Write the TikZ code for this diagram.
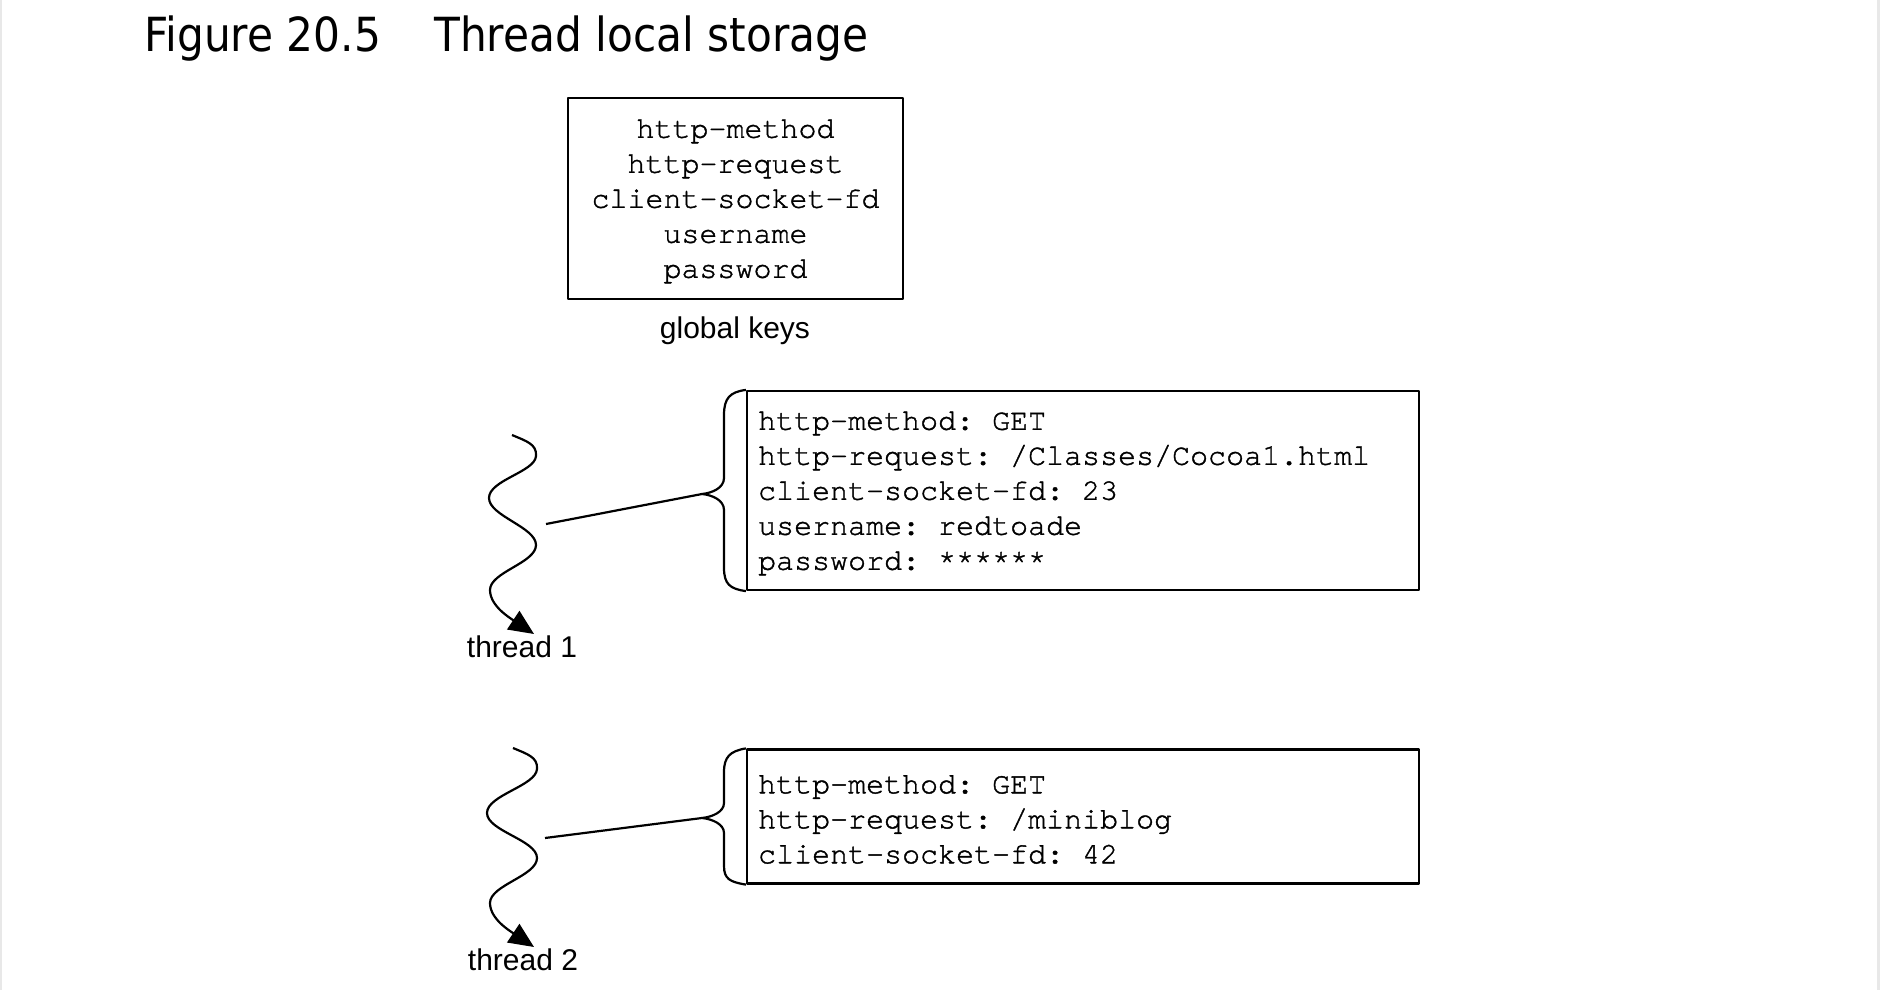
\documentclass[tikz,border=0pt]{standalone}
\usepackage{fontspec}
\setmainfont{Liberation Sans}
\newfontfamily\keymono[FakeBold=1.3]{TeX Gyre Cursor}
\newfontfamily\titlefont[FakeStretch=0.9]{DejaVu Sans}
\usetikzlibrary{arrows.meta}
\begin{document}
\begin{tikzpicture}[x=1pt,y=-1pt,line join=round,
  keybox/.style={draw,line width=2.2pt,inner sep=0pt},
  keytext/.style={inner sep=0pt,font=\keymono\fontsize{30}{35}\selectfont\frenchspacing},
  lbl/.style={font=\fontsize{30}{36}\selectfont,inner sep=0pt,anchor=base},
  ttl/.style={font=\titlefont\fontsize{47}{50}\selectfont,inner sep=0pt,anchor=base west},
  thread/.style={line width=2.2pt,-{Triangle[length=25pt,width=22pt]}},
  link/.style={line width=2.2pt},
  brace/.style={line width=2.2pt},
  edge strip/.style={fill=black!9,draw=none}]
\useasboundingbox (0,0) rectangle (1880,990);
\fill[white] (0,0) rectangle (1880,990);
\path[edge strip] (0,0) rectangle (2,990);
\path[edge strip] (1877,0) rectangle (1880,990);

% title
\node[ttl] (fig) at (144,52) {Figure 20.5};
\node[ttl] (ttltext) at (434,52) {Thread local storage};

% global keys
\node[keybox,minimum width=335pt,minimum height=201pt] (keys) at (735.5,198.5) {};
\node[keytext,align=center,yshift=-3pt] (keyslist) at (keys.center)
  {http-method\\http-request\\client-socket-fd\\username\\password};
\node[lbl] (gk) at (735,338) {global keys};

% thread-local boxes
\node[keybox,minimum width=672pt,minimum height=199pt] (tls1) at (1083,490.5) {};
\node[keytext,align=left,anchor=west,xshift=12pt,yshift=-3pt] (tls1text) at (tls1.west)
  {http-method: GET\\http-request: /Classes/Cocoa1.html\\client-socket-fd: 23\\username: redtoade\\password: ******};
\node[keybox,minimum width=672pt,minimum height=134pt] (tls2) at (1083,816.5) {};
\node[keytext,align=left,anchor=west,xshift=12pt,yshift=-3pt] (tls2text) at (tls2.west)
  {http-method: GET\\http-request: /miniblog\\client-socket-fd: 42};

% labels
\node[lbl] (th1) at (522,657) {thread 1};
\node[lbl] (th2) at (523,970) {thread 2};

% braces
\coordinate (b1tip) at (702,494);
\coordinate (b2tip) at (702,818);
\draw[brace] (tls1.north west) .. controls (730,392) and (724,398) .. (724,415) -- (724,478)
  .. controls (724,488) and (712,493) .. (b1tip)
  .. controls (712,495) and (724,500) .. (724,510) -- (724,568)
  .. controls (724,584) and (730,589) .. (tls1.south west);
\draw[brace] (tls2.north west) .. controls (730,751) and (724,757) .. (724,772) -- (724,803)
  .. controls (724,812) and (712,817) .. (b2tip)
  .. controls (712,819) and (724,824) .. (724,833) -- (724,866)
  .. controls (724,879) and (730,882) .. (tls2.south west);

% threads
\coordinate (t1start) at (512,435);
\coordinate (t1end) at (534,634);
\coordinate (t1mid) at (546,524);
\draw[thread] (t1start) .. controls (526,441) and (537,444) .. (536,456)
  .. controls (535,472) and (489,480) .. (489,498)
  .. controls (489,516) and (536,527) .. (536,545)
  .. controls (536,563) and (490,572) .. (490,590)
  .. controls (490,606) and (510,618) .. (t1end);
\coordinate (t2start) at (513,748);
\coordinate (t2end) at (534,947);
\coordinate (t2mid) at (545,838);
\draw[thread] (t2start) .. controls (527,754) and (538,757) .. (537,769)
  .. controls (536,786) and (487,795) .. (487,813)
  .. controls (487,831) and (537,840) .. (537,858)
  .. controls (537,876) and (490,885) .. (490,903)
  .. controls (490,919) and (510,931) .. (t2end);

% links
\draw[link] (t1mid) -- (b1tip);
\draw[link] (t2mid) -- (b2tip);
\end{tikzpicture}
\end{document}
